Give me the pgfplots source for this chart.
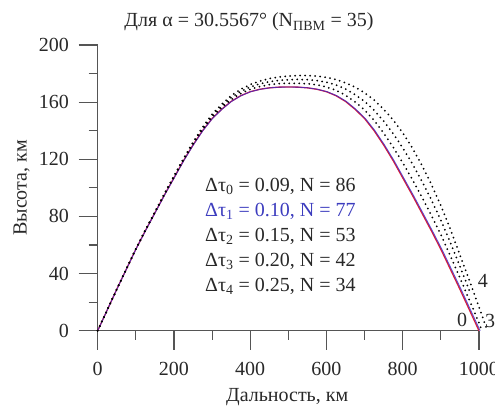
\documentclass[border=0pt]{standalone}
\usepackage{pgfplots}
\pgfplotsset{compat=1.18}
\usepackage{fontspec}
\setmainfont{Liberation Serif}
\definecolor{axgray}{RGB}{85,85,85}
\definecolor{txt}{RGB}{40,40,40}
\definecolor{myblue}{RGB}{60,40,200}
\definecolor{myred}{RGB}{215,30,60}
\definecolor{lblue}{RGB}{60,60,190}
\begin{document}
\fontsize{20bp}{25bp}\selectfont
\begin{tikzpicture}
\begin{axis}[
 x=0.3813bp, y=1.4285bp,
 xmin=0,xmax=1000,ymin=0,ymax=200,
 axis x line=bottom, axis y line=left,
 axis line style={axgray, line width=1.1bp, -},
 xtick={0,200,...,1000}, ytick={0,40,...,200},
 minor x tick num=1, minor y tick num=1,
 tick align=outside,
 major tick length=19bp, minor tick length=9bp,
 every tick/.style={axgray, line width=1.1bp},
 tick label style={font=\fontsize{20bp}{24bp}\selectfont, text=txt},
 xticklabel shift=6bp, yticklabel shift=3bp,
 /pgf/number format/assume math mode=true,
 /pgf/number format/1000 sep={},
 clip=false,
]
% curve 0 (red)
\addplot[myred, line width=1.3bp] coordinates {
(0,0)(25,14.5)(50,29)(75,43)(100,57)(125,70)(150,82.5)(175,95)(200,107)(225,119)(250,130)(275,140)(300,148.5)(325,155)(350,160.5)(375,164.5)(400,167.3)(425,169)(450,170)(475,170.5)(500,170.6)(525,170.5)(550,170)(575,169)(600,167.3)(625,164.5)(650,160.5)(675,155)(700,148.5)(725,140)(750,130)(775,119)(800,107)(825,95)(850,82.5)(875,70)(900,57)(925,43)(950,29)(975,14.5)(1000,0)};
% curve 1 (blue)
\addplot[myblue, line width=0.9bp, opacity=0.8] coordinates {
(0,0)(25.1,14.5)(50.2,29)(75.2,43)(100.3,57)(125.4,70)(150.5,82.5)(175.5,95)(200.6,107)(225.7,119)(250.8,130)(275.8,140)(300.9,148.5)(326,155)(351,160.5)(376.1,164.5)(401.2,167.3)(426.3,169)(451.4,170)(476.4,170.5)(501.5,170.6)(526.6,170.5)(551.7,170)(576.7,169)(601.8,167.3)(626.9,164.5)(652,160.5)(677,155)(702.1,148.5)(727.2,140)(752.3,130)(777.3,119)(802.4,107)(827.5,95)(852.6,82.5)(877.6,70)(902.7,57)(927.8,43)(952.9,29)(977.9,14.5)(1003,0)};
% curve 2 (dotted)
\addplot[black, line width=2bp, line cap=round, dash pattern=on 0pt off 5bp] coordinates {
(0,0)(25,14.5)(50,29)(75,43.1)(100,57.1)(125,70.2)(150,82.7)(175,95.3)(200,107.4)(225,119.5)(250,130.7)(275,140.8)(300,149.5)(325,156.2)(350,161.8)(375,166)(400,169)(425,170.9)(450,172.2)(475,172.9)(500,173.2)(525,173.2)(550,172.9)(575,172.1)(600,170.6)(625,168.3)(650,164.8)(675,160.2)(700,154.5)(725,147.2)(750,138.3)(775,128.5)(800,117.5)(825,106)(850,93.7)(875,80.8)(900,67.2)(925,52.3)(950,37)(975,21.3)(1000,5.5)(1008,0)};
% curve 3 (dotted)
\addplot[black, line width=2bp, line cap=round, dash pattern=on 0pt off 5bp] coordinates {
(0,0)(25,14.5)(50,29)(75,43.2)(100,57.3)(125,70.5)(150,83.2)(175,96)(200,108.3)(225,120.5)(250,132)(275,142.5)(300,151.5)(325,158.5)(350,164.5)(375,169)(400,172.3)(425,174.7)(450,176.5)(475,177.6)(500,178.3)(525,178.6)(550,178.6)(575,178.2)(600,177.3)(625,175.8)(650,173.5)(675,170.5)(700,166.5)(725,161.5)(750,155)(775,147.5)(800,138.5)(825,128)(850,116)(875,102.5)(900,87.5)(925,71)(950,53)(975,35)(1000,16.5)(1022,0)};
% curve 4 (dotted)
\addplot[black, line width=2bp, line cap=round, dash pattern=on 0pt off 5bp] coordinates {
(0,0)(25,14.5)(50,29)(75,43.1)(100,57.2)(125,70.3)(150,83)(175,95.7)(200,107.9)(225,120)(250,131.3)(275,141.7)(300,150.5)(325,157.3)(350,163.2)(375,167.5)(400,170.6)(425,172.8)(450,174.3)(475,175.2)(500,175.7)(525,175.9)(550,175.7)(575,175.1)(600,174)(625,172)(650,169.2)(675,165.3)(700,160.5)(725,154.3)(750,146.7)(775,138)(800,128)(825,117)(850,104.8)(875,91.7)(900,77.3)(925,61.7)(950,45)(975,28)};
% texts
\node[anchor=base, text=txt] at (axis cs:396.8,212.6) {Для α = 30.5567° (N\textsubscript{ПВМ} = 35)};
\node[anchor=base, text=txt] at (axis cs:497,-49.9) {Дальность, км};
\node[rotate=90, text=txt] at (axis cs:-199.8,100) {Высота, км};
\node[anchor=base west, text=txt, inner sep=0pt] at (axis cs:281.4,97.3) {Δτ\textsubscript{0} = 0.09, N = 86};
\node[anchor=base west, text=lblue, inner sep=0pt] at (axis cs:281.4,79.8) {Δτ\textsubscript{1} = 0.10, N = 77};
\node[anchor=base west, text=txt, inner sep=0pt] at (axis cs:281.4,62.3) {Δτ\textsubscript{2} = 0.15, N = 53};
\node[anchor=base west, text=txt, inner sep=0pt] at (axis cs:281.4,44.8) {Δτ\textsubscript{3} = 0.20, N = 42};
\node[anchor=base west, text=txt, inner sep=0pt] at (axis cs:281.4,27.3) {Δτ\textsubscript{4} = 0.25, N = 34};
\node[anchor=base, text=txt, inner sep=0pt] at (axis cs:956,2.6) {0};
\node[anchor=base, text=txt, inner sep=0pt] at (axis cs:1010.5,29.9) {4};
\node[anchor=base, text=txt, inner sep=0pt] at (axis cs:1029,1.9) {3};
\end{axis}
\pgfresetboundingbox
\path[use as bounding box] (-97.7bp,-77.3bp) rectangle (397.3bp,330.7bp);
\end{tikzpicture}
\end{document}
